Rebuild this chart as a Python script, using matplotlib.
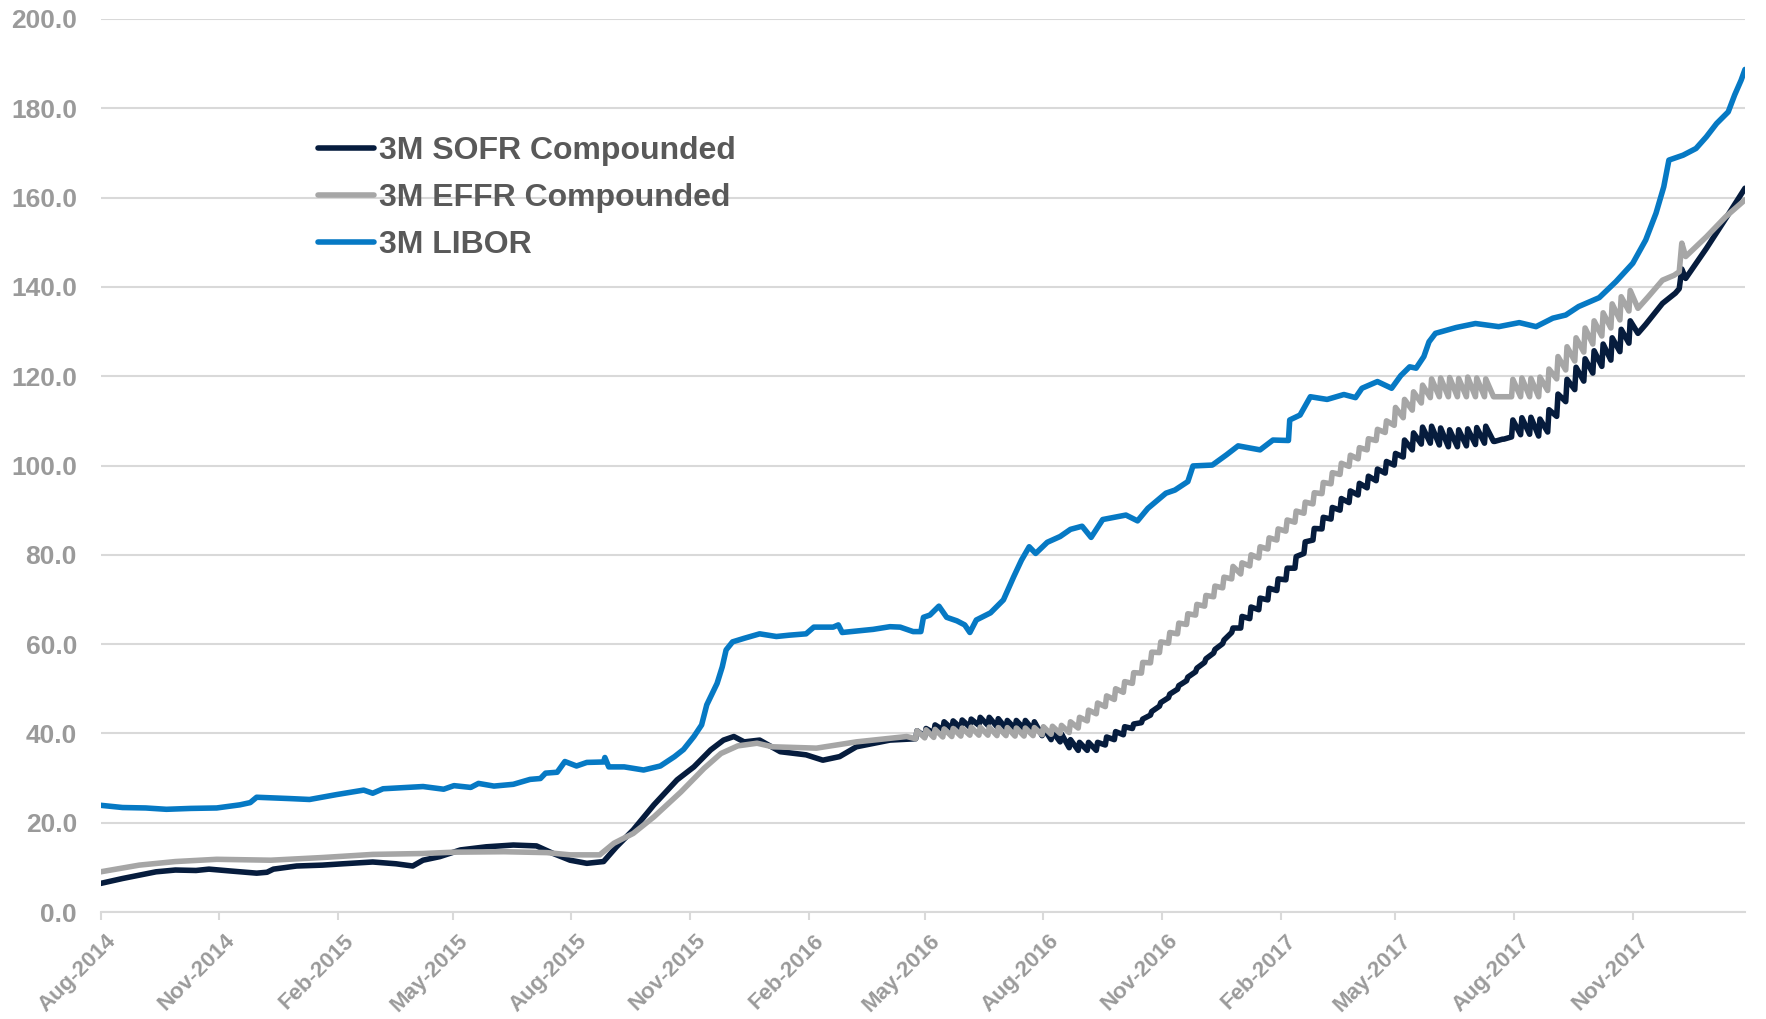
import matplotlib
matplotlib.use('Agg')
import matplotlib.pyplot as plt
import matplotlib.dates as mdates
import matplotlib.transforms as mtrans
from matplotlib.lines import Line2D
import pandas as pd

plt.rcParams['font.family'] = ['Liberation Sans', 'DejaVu Sans']

START = '2014-08-01'

# ---- 3M LIBOR (days since START, value) ----
libor_days = [0, 17, 35, 51, 70, 90, 108, 116, 121, 147, 162, 183, 204, 211, 219, 250,
              266, 274, 287, 293, 305, 320, 333, 341, 345, 354, 360, 369, 377, 390, 391,
              394, 406, 421, 434, 445, 452, 460, 466, 470, 478, 482, 485, 490, 499, 511,
              524, 534, 547, 553, 568, 572, 575, 599, 612, 620, 630, 636, 638, 643, 650,
              656, 664, 670, 674, 679, 690, 700, 708, 714, 720, 725, 734, 744, 752, 761,
              768, 777, 795, 804, 812, 826, 833, 843, 847, 862, 873, 882, 899, 909, 921,
              922, 930, 938, 951, 964, 973, 978, 990, 1001, 1008, 1015, 1020, 1026, 1030,
              1035, 1051, 1066, 1084, 1100, 1113, 1126, 1136, 1146, 1162, 1175, 1188,
              1198, 1206, 1212, 1216, 1227, 1237, 1245, 1253, 1262, 1267, 1272, 1275]
libor_vals = [23.9, 23.4, 23.3, 23.0, 23.2, 23.3, 24.0, 24.5, 25.7, 25.4, 25.2, 26.3, 27.3, 26.6, 27.6, 28.1,
              27.5, 28.3, 27.9, 28.8, 28.2, 28.6, 29.7, 29.9, 31.1, 31.3, 33.7, 32.7, 33.5, 33.6, 34.6,
              32.5, 32.5, 31.8, 32.7, 34.8, 36.4, 39.3, 41.9, 46.4, 51.2, 54.9, 58.7, 60.5, 61.3, 62.3,
              61.7, 62.0, 62.3, 63.8, 63.8, 64.3, 62.6, 63.3, 63.9, 63.8, 62.8, 62.8, 66.0, 66.5, 68.5,
              66.0, 65.2, 64.3, 62.6, 65.4, 67.0, 69.9, 75.1, 78.8, 81.8, 80.3, 82.8, 84.1, 85.7, 86.4,
              83.9, 87.9, 88.9, 87.6, 90.4, 93.8, 94.5, 96.4, 99.9, 100.1, 102.4, 104.4, 103.5, 105.7, 105.6,
              110.2, 111.3, 115.4, 114.8, 115.9, 115.2, 117.3, 118.8, 117.3, 120.1, 122.1, 121.8, 124.4, 127.7,
              129.6, 130.9, 131.8, 131.1, 132.0, 131.1, 133.0, 133.7, 135.6, 137.6, 141.2, 145.3,
              150.5, 156.5, 162.4, 168.4, 169.5, 171.0, 173.6, 176.6, 179.2, 183.0, 186.3, 188.7]

# ---- 3M SOFR Compounded (outside the weekly section) ----
sofr_days = [0, 17, 43, 58, 74, 84, 100, 121, 129, 134, 152, 172, 188, 211, 229, 242, 250,
             263, 279, 299, 320, 338, 351, 364, 377, 390, 400, 413, 429, 447, 460, 473, 483,
             491, 499, 511, 527, 547, 560, 573, 586, 612,
             1192, 1198, 1211, 1221, 1224, 1226, 1229, 1245, 1260, 1275]
sofr_vals = [6.4, 7.5, 9.0, 9.4, 9.3, 9.6, 9.2, 8.7, 8.9, 9.6, 10.3, 10.5, 10.8, 11.2, 10.8, 10.3, 11.6,
             12.4, 13.9, 14.6, 15.0, 14.8, 13.1, 11.6, 10.9, 11.3, 14.6, 18.4, 24.0, 29.6, 32.5, 36.3, 38.5,
             39.3, 38.1, 38.5, 35.9, 35.2, 34.0, 34.8, 37.0, 38.5,
             129.6, 131.6, 136.3, 138.6, 139.6, 144.0, 141.9, 148.6, 155.3, 162.1]

# ---- 3M EFFR Compounded (outside the weekly section) ----
effr_days = [0, 30, 58, 90, 132, 172, 211, 250, 274, 313, 346, 364, 387, 398, 413, 429, 450,
             468, 481, 494, 509, 521, 555, 586, 625,
             1192, 1200, 1211, 1220, 1224, 1226, 1229, 1245, 1260, 1275]
effr_vals = [9.0, 10.5, 11.3, 11.8, 11.6, 12.2, 12.9, 13.1, 13.4, 13.5, 13.3, 12.8, 12.8, 15.4, 17.6, 21.3, 26.9,
             32.2, 35.5, 37.2, 37.8, 37.0, 36.7, 38.1, 39.3,
             135.2, 137.8, 141.5, 142.6, 143.4, 149.8, 146.8, 151.2, 155.7, 159.5]

# ---- weekly section (Apr 2016 - Oct 2017): trough and spike values each week ----
week_start, week_end = 632, 1190
sofr_week_low = [38.8, 39.3, 40.1, 40.8, 41.0, 41.2, 41.4, 41.8, 41.8, 41.5, 41.1, 41.1,
                 41.1, 40.8, 39.5, 38.6, 38.1, 36.8, 36.2, 36.2, 36.2, 37.4, 38.6, 39.7,
                 41.1, 42.4, 44.1, 46.1, 48.0, 49.9, 51.8, 53.8, 55.9, 58.0, 60.1, 62.6,
                 63.6, 65.7, 67.7, 69.9, 72.0, 74.4, 77.0, 80.3, 83.3, 85.8, 88.0, 90.0, 91.7, 93.4,
                 95.0, 96.6, 98.3, 100.1, 101.9, 103.5, 104.8, 105.0, 104.6, 104.2, 104.2, 104.4,
                 104.7, 105.0, 105.4, 105.9, 106.4, 106.9, 107.0, 106.6, 107.5, 111.0, 114.3, 117.0,
                 118.9, 120.7, 122.2, 123.6, 125.5, 127.4]
sofr_week_high = [40.6, 41.1, 41.9, 42.6, 42.8, 43.0, 43.2, 43.6, 43.6, 43.3, 42.9, 42.9,
                  42.9, 42.6, 41.3, 40.4, 39.9, 38.6, 38.0, 38.0, 38.0, 39.2, 40.4, 41.5,
                  42.1, 43.2, 44.9, 46.9, 48.8, 50.7, 52.6, 54.6, 56.7, 58.8, 60.9, 63.6,
                  66.2, 68.3, 70.3, 72.5, 74.6, 77.0, 79.6, 82.9, 85.9, 88.4, 90.6, 92.6, 94.3, 96.0,
                  97.6, 99.2, 100.9, 102.7, 105.7, 107.3, 108.6, 108.8, 108.4, 108.0, 108.0, 108.2,
                  108.5, 108.8, 105.4, 105.9, 110.2, 110.7, 110.8, 110.4, 112.5, 116.0, 119.3, 122.0,
                  123.9, 125.7, 127.2, 128.6, 130.5, 132.4]
effr_week_low = [38.8, 39.0, 39.1, 39.2, 39.3, 39.4, 39.6, 39.6, 39.6, 39.5, 39.5, 39.4,
                 39.4, 39.5, 39.7, 39.8, 40.0, 40.2, 41.2, 42.8, 44.4, 46.0, 47.6, 49.2,
                 51.2, 53.5, 55.8, 58.1, 60.2, 62.3, 64.4, 66.5, 68.5, 70.6, 72.6, 74.6,
                 75.7, 77.5, 79.3, 81.3, 83.3, 85.3, 87.3, 89.3, 91.4, 93.7, 95.9, 98.0, 99.8, 101.5,
                 103.5, 105.6, 107.4, 109.0, 110.7, 112.4, 114.0, 115.2, 115.4, 115.4, 115.4, 115.4,
                 115.4, 115.4, 115.4, 115.4, 115.4, 115.4, 115.4, 115.4, 116.8, 119.4, 121.4, 123.4,
                 125.4, 127.2, 129.0, 130.8, 132.6, 134.6]
effr_week_high = [40.6, 40.8, 40.9, 41.0, 41.1, 41.2, 41.4, 41.4, 41.4, 41.3, 41.3, 41.2,
                  41.2, 41.3, 41.5, 41.6, 41.8, 42.6, 43.6, 45.2, 46.8, 48.4, 50.0, 51.6,
                  53.6, 55.9, 58.2, 60.5, 62.6, 64.7, 66.8, 68.9, 70.9, 73.0, 75.0, 77.4,
                  78.2, 80.0, 81.8, 83.8, 85.8, 87.8, 89.8, 91.8, 93.9, 96.2, 98.4, 100.5, 102.3, 104.0,
                  106.0, 108.1, 110.0, 113.0, 114.8, 116.5, 118.0, 119.4, 119.6, 119.7, 119.5, 119.8,
                  119.6, 119.4, 115.4, 115.4, 119.3, 119.6, 119.5, 119.8, 121.6, 124.4, 126.6, 128.6,
                  130.8, 132.4, 134.2, 136.2, 137.8, 139.2]

labels = ['3M SOFR Compounded', '3M EFFR Compounded', '3M LIBOR']
colors = ['#061C3D', '#A6A6A6', '#0679C4']
tick_months = [2, 5, 8, 11]


def build(days, vals, low=None, high=None):
    pts = list(zip(days, vals))
    if low is not None:
        wdays = list(range(week_start, week_end, 7))
        for d, lo, hi in zip(wdays, low, high):
            pts.append((d, lo))
            pts.append((d + 1, hi))
    pts.sort()
    s = pd.Series([p[1] for p in pts],
                  index=pd.Timestamp(START) + pd.to_timedelta([p[0] for p in pts], unit='D'))
    return s


sofr = build(sofr_days, sofr_vals, sofr_week_low, sofr_week_high)
effr = build(effr_days, effr_vals, effr_week_low, effr_week_high)
libor = build(libor_days, libor_vals)

W, H = 1766, 1019
fig = plt.figure(figsize=(W / 100, H / 100), dpi=100)
ax = fig.add_axes([100.6 / W, 1 - 912 / H, (1745 - 100.6) / W, (912 - 19) / H])

for i, s in enumerate([sofr, effr, libor]):
    ax.plot(s.index, s.values, color=colors[i], lw=4.0, solid_joinstyle='round',
            solid_capstyle='round', zorder=3 + i, label=labels[i])

ax.set_ylim(0, 200)
ax.set_xlim(libor.index[0], libor.index[-1])
ax.set_yticks(range(0, 201, 20))
ax.yaxis.set_major_formatter(matplotlib.ticker.FuncFormatter(lambda v, p: f'{v:.1f}'))
ax.xaxis.set_major_locator(mdates.MonthLocator(bymonth=tick_months))
ax.xaxis.set_major_formatter(mdates.DateFormatter('%b-%Y'))

grid_c = '#D9D9D9'
ax.grid(axis='y', color=grid_c, lw=1.5, zorder=0)
ax.set_axisbelow(True)
for sp in ['left', 'right', 'top']:
    ax.spines[sp].set_visible(False)
ax.spines['bottom'].set_color(grid_c)
ax.spines['bottom'].set_linewidth(1.5)
ax.spines['bottom'].set_zorder(1)

tick_c = '#9A9A9A'
ax.tick_params(axis='y', length=0, pad=17, labelsize=19, labelcolor=tick_c)
ax.tick_params(axis='x', direction='out', length=5.5, width=1.5, color=grid_c,
               pad=7.5, labelsize=16, labelcolor=tick_c)
for t in ax.get_yticklabels():
    t.set_fontweight('bold')
off = mtrans.ScaledTranslation(5 / 100, 0, fig.dpi_scale_trans)
for t in ax.get_xticklabels():
    t.set_fontweight('bold')
    t.set_rotation(45)
    t.set_rotation_mode('anchor')
    t.set_ha('right')
    t.set_va('top')
    t.set_transform(t.get_transform() + off)

handles = [Line2D([0], [0], color=c, lw=4.0, solid_capstyle='round') for c in colors]
leg = ax.legend(handles, labels, loc='upper left', bbox_to_anchor=(318 / W, 1 - 136.5 / H),
                bbox_transform=fig.transFigure, frameon=False,
                prop={'family': 'Liberation Sans', 'weight': 'bold', 'size': 23},
                labelcolor='#595959', handlelength=1.75, handletextpad=0.15,
                labelspacing=0.52, borderpad=0, borderaxespad=0)
leg.set_zorder(10)

fig.savefig('out.png', dpi=100)
